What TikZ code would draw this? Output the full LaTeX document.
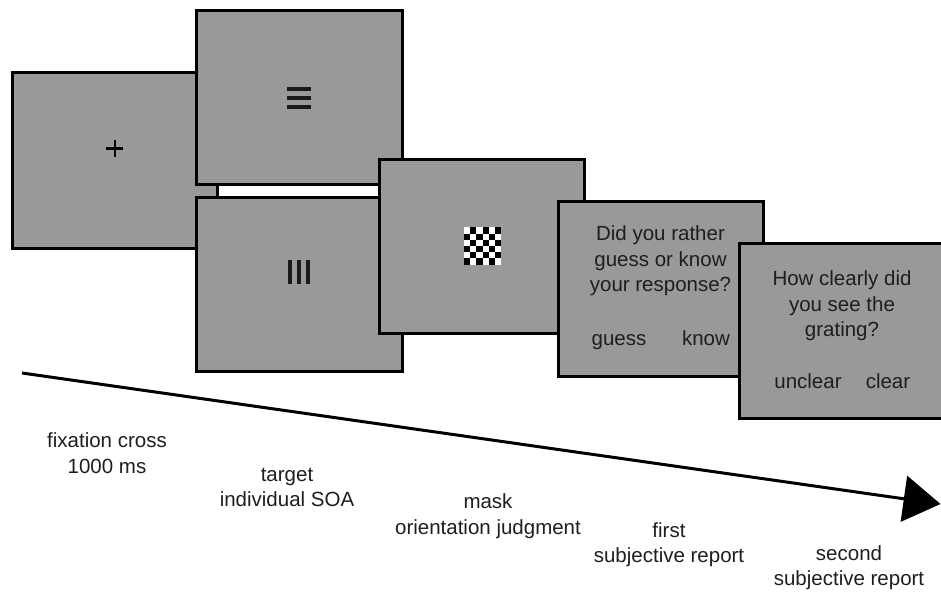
\documentclass[tikz,border=0pt]{standalone}
\usepackage{fontspec}
\setmainfont{Liberation Sans}
\usetikzlibrary{arrows.meta}
\definecolor{screengray}{HTML}{999999}
\definecolor{txt}{HTML}{1E1E1E}
\begin{document}
\begin{tikzpicture}[x=1pt,y=-1pt,
  screen/.style={draw=black, line width=3pt, fill=screengray, inner sep=0pt},
  lbl/.style={text=txt, align=center, inner sep=0pt, font=\fontsize{20.5}{25.5}\selectfont},
  word/.style={lbl, text height=14.8pt, text depth=4.4pt},
  timeline/.style={line width=3pt, -{Triangle[length=37pt,width=46pt]}}]
\useasboundingbox (0,0) rectangle (941,592);
% screens
\node[screen, minimum width=205pt, minimum height=176pt] (s1) at (114.5,160) {};
\node[screen, minimum width=206pt, minimum height=174pt] (s2) at (299,97) {};
\node[screen, minimum width=206pt, minimum height=174pt] (s3) at (299,284) {};
\node[screen, minimum width=205pt, minimum height=174pt] (s4) at (481.5,246) {};
\node[screen, minimum width=205pt, minimum height=175pt] (s5) at (660.5,288.5) {};
\node[screen, minimum width=205pt, minimum height=175pt] (s6) at (841.5,330.5) {};
% fixation cross
\fill[black] ([shift={(-8.5,-12.6)}]s1.center) rectangle ++(17,2.3);
\fill[black] ([shift={(-0.65,-20.5)}]s1.center) rectangle ++(2.3,17);
% horizontal grating
\foreach \dy in {-10.25,-1.25,7.75}
  \fill[black!90] ([shift={(-12,\dy)}]s2.center) rectangle ++(24,4.5);
% vertical grating
\foreach \dx in {-11.25,-2.25,6.75}
  \fill[black!90] ([shift={(\dx,-24)}]s3.center) rectangle ++(4.5,24);
% checkerboard mask
\fill[white] ([shift={(-17.6,-18.6)}]s4.center) rectangle ++(37.2,37.2);
\foreach \r in {0,...,5}{
  \foreach \c in {0,2,4}{
    \pgfmathtruncatemacro\cc{\c+mod(\r+1,2)}
    \fill[black] ([shift={(-17.6+6.2*\cc,-18.6+6.2*\r)}]s4.center) rectangle ++(6.2,6.2);
  }
}
% questions
\node[lbl] (q1) at (660.5,261) {Did you rather\\guess or know\\your response?};
\node[word] (g1) at (619,340) {guess};
\node[word] (k1) at (706,340) {know};
\node[lbl] (q2) at (842,306) {How clearly did\\you see the\\grating?};
\node[word] (u2) at (808,383) {unclear};
\node[word] (c2) at (888,383) {clear};
% time axis
\coordinate (tstart) at (22,373);
\coordinate (tend) at (940.5,504);
\draw[timeline] (tstart) -- (tend);
% labels
\node[lbl] (l1) at (107,453) {fixation cross\\1000 ms};
\node[lbl] (l2) at (287,487.5) {target\\individual SOA};
\node[lbl] (l3) at (488,516) {mask\\orientation judgment};
\node[lbl] (l4) at (669,544.5) {first\\subjective report};
\node[lbl] (l5) at (849,567.5) {second\\subjective report};
\end{tikzpicture}
\end{document}
